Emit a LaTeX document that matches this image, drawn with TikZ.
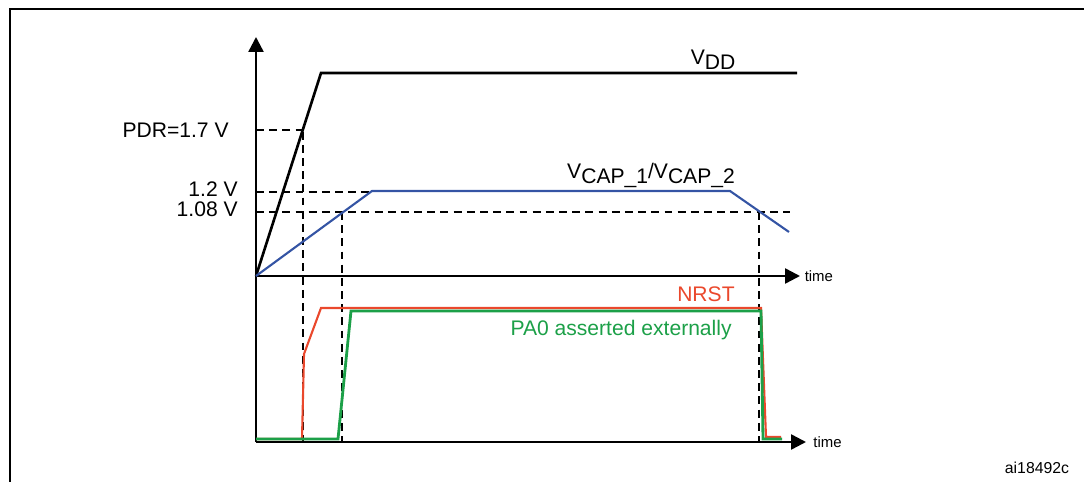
\documentclass[tikz,border=0pt]{standalone}
\usepackage{fontspec}
\setmainfont{Liberation Sans}
\usetikzlibrary{arrows.meta}

\definecolor{capblue}{RGB}{52,84,164}
\definecolor{rstred}{RGB}{234,72,44}
\definecolor{pagreen}{RGB}{28,160,72}

\tikzset{
  axis/.style={line width=1.4pt, -{Triangle[length=0.3cm, width=0.3cm]}},
  guide/.style={line width=1.1pt, dash pattern=on 4.5pt off 3pt},
  lbl/.style={inner sep=0pt, font=\fontsize{12}{14}\selectfont},
  tlbl/.style={inner sep=0pt, anchor=west, font=\fontsize{8.5}{10}\selectfont}
}

\begin{document}
\begin{tikzpicture}[x=0.02cm, y=-0.02cm]
        \useasboundingbox (0,0) rectangle (1084,482);
        \draw[line width=1.3pt] (1084,9) -- (10,9) -- (10,482);

        \coordinate (O) at (256,276);
        \coordinate (Ylo) at (256,442);
        \coordinate (Ytop) at (256,37);
        \coordinate (T1) at (800,276);
        \coordinate (T2) at (806,442);

        % dashed guides
        \draw[guide] (256,130) -- (305,130) -- (303,130) -- (303,442);
        \draw[guide] (256,192) -- (372,192);
        \draw[guide] (256,212) -- (790,212);
        \draw[guide] (342,212) -- (342,442);
        \draw[guide] (759,212) -- (759,442);

        % axes
        \draw[axis] (Ylo) -- (Ytop);
        \draw[axis] (O) -- (T1);
        \draw[axis] (Ylo) -- (T2);
        \node[tlbl] (time1) at ([xshift=2.5pt]T1) {time};
        \node[tlbl] (time2) at ([xshift=4pt]T2) {time};

        % supply curves
        \draw[line width=1.5pt] (O) -- (321,73) -- (797,73);
        \draw[capblue, line width=1.2pt] (O) -- (372,191) -- (730,191) -- (789,232);

        % NRST and PA0
        \draw[rstred, line width=1.2pt] (256,439) -- (302,439) -- (304,354) -- (321,308) -- (761,308) -- (766,437) -- (781,437);
        \draw[pagreen, line width=1.6pt] (256,439) -- (338,439) -- (351,311) -- (761,311) -- (763,439) -- (782,439);

        \node[lbl, anchor=east] (pdr) at (229,130) {PDR=1.7 V};
        \node[lbl, anchor=east] (v12) at (238,189) {1.2 V};
        \node[lbl, anchor=east] (v108) at (238,209) {1.08 V};
        \node[lbl] (vdd) at (713,60) {V\raisebox{-0.45ex}{DD}};
        \node[lbl] (vcap) at (651,175) {V\raisebox{-0.45ex}{CAP\_1}/V\raisebox{-0.45ex}{CAP\_2}};
        \node[lbl, anchor=east, text=rstred] (nrst) at (735,294) {NRST};
        \node[lbl, anchor=east, text=pagreen] (pa0) at (732,330) {PA0 asserted externally};
        \node[inner sep=0pt, font=\fontsize{9}{11}\selectfont] (fig) at (1037,468) {ai18492c};
    \end{tikzpicture}
\end{document}
